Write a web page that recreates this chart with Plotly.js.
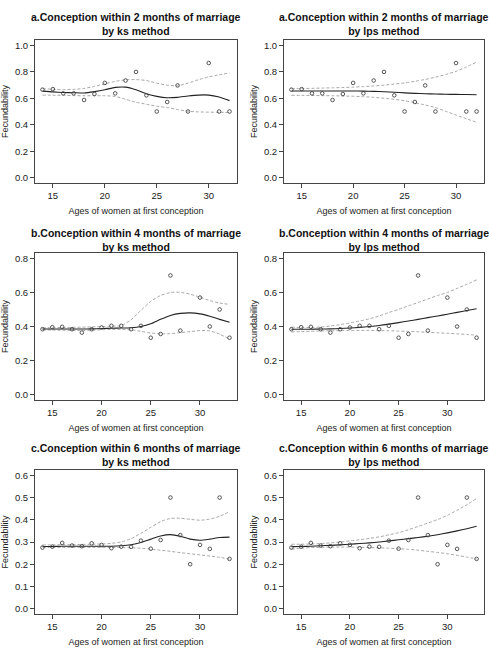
<!DOCTYPE html>
<html><head><meta charset="utf-8">
<script src="https://cdn.plot.ly/plotly-3.0.1.min.js"></script>
<style>html,body{margin:0;padding:0;background:#fff}#chart{width:489px;height:659px}</style>
</head><body><div id="chart"></div>
<script>
// ---- observed points ----
var agesA = [14,15,16,17,18,19,20,21,22,23,24,25,26,27,28,30,31,32];
var fecA  = [0.665,0.669,0.637,0.637,0.587,0.632,0.716,0.637,0.734,0.799,0.622,0.5,0.572,0.697,0.5,0.866,0.5,0.5];
var agesB = [14,15,16,17,18,19,20,21,22,23,24,25,26,27,28,30,31,32,33];
var fecB  = [0.384,0.396,0.398,0.384,0.364,0.384,0.394,0.404,0.404,0.384,0.404,0.334,0.356,0.70,0.376,0.57,0.40,0.50,0.334];
var agesC = [14,15,16,17,18,19,20,21,22,23,24,25,26,27,28,29,30,31,32,33];
var fecC  = [0.275,0.279,0.296,0.284,0.281,0.294,0.287,0.272,0.279,0.278,0.306,0.270,0.309,0.50,0.331,0.20,0.287,0.269,0.50,0.224];

// ---- fitted curves (estimate, upper band, lower band) ----
var gridA = [14,15,16,17,18,19,20,21,22,23,24,25,26,27,28,29,30,31,32];
var gridBC = [14,15,16,17,18,19,20,21,22,23,24,25,26,27,28,29,30,31,32,33];

var ksA_fit = [0.654,0.648,0.644,0.642,0.640,0.650,0.664,0.682,0.684,0.664,0.634,0.614,0.604,0.607,0.617,0.624,0.624,0.609,0.582];
var ksA_up  = [0.672,0.668,0.664,0.667,0.674,0.690,0.709,0.728,0.739,0.741,0.734,0.714,0.699,0.694,0.714,0.740,0.761,0.777,0.791];
var ksA_lo  = [0.624,0.623,0.622,0.620,0.619,0.619,0.619,0.614,0.592,0.570,0.555,0.540,0.530,0.515,0.502,0.497,0.495,0.494,0.493];

var lpsA_fit = [0.655,0.655,0.655,0.655,0.655,0.655,0.655,0.654,0.652,0.649,0.645,0.641,0.637,0.634,0.632,0.630,0.629,0.628,0.627];
var lpsA_up  = [0.672,0.673,0.675,0.677,0.679,0.681,0.684,0.688,0.693,0.699,0.707,0.716,0.728,0.742,0.759,0.779,0.803,0.836,0.873];
var lpsA_lo  = [0.622,0.622,0.621,0.620,0.619,0.617,0.615,0.612,0.607,0.600,0.592,0.581,0.566,0.549,0.530,0.502,0.473,0.446,0.418];

var ksB_fit = [0.385,0.385,0.385,0.385,0.385,0.386,0.388,0.390,0.391,0.393,0.400,0.416,0.442,0.465,0.477,0.480,0.474,0.460,0.442,0.425];
var ksB_up  = [0.392,0.393,0.394,0.395,0.396,0.398,0.400,0.402,0.405,0.440,0.495,0.548,0.582,0.600,0.601,0.590,0.572,0.552,0.538,0.530];
var ksB_lo  = [0.380,0.379,0.378,0.377,0.376,0.378,0.381,0.383,0.383,0.380,0.372,0.362,0.357,0.358,0.364,0.370,0.376,0.374,0.355,0.325];

var lpsB_fit = [0.384,0.384,0.384,0.385,0.386,0.388,0.391,0.395,0.400,0.406,0.414,0.423,0.432,0.442,0.452,0.462,0.472,0.483,0.494,0.504];
var lpsB_up  = [0.396,0.394,0.394,0.397,0.403,0.411,0.421,0.432,0.445,0.462,0.482,0.501,0.521,0.541,0.562,0.582,0.600,0.624,0.648,0.674];
var lpsB_lo  = [0.368,0.370,0.372,0.374,0.375,0.376,0.377,0.377,0.377,0.376,0.375,0.373,0.371,0.369,0.366,0.363,0.360,0.357,0.353,0.349];

var ksC_fit = [0.280,0.280,0.281,0.281,0.281,0.281,0.281,0.281,0.283,0.288,0.298,0.313,0.327,0.333,0.326,0.313,0.308,0.313,0.320,0.322];
var ksC_up  = [0.287,0.287,0.288,0.288,0.289,0.290,0.291,0.294,0.300,0.315,0.339,0.366,0.392,0.406,0.407,0.402,0.398,0.403,0.416,0.436];
var ksC_lo  = [0.276,0.276,0.276,0.276,0.276,0.276,0.275,0.275,0.275,0.274,0.272,0.268,0.263,0.258,0.252,0.247,0.242,0.237,0.231,0.223];

var lpsC_fit = [0.279,0.280,0.281,0.283,0.285,0.287,0.290,0.293,0.296,0.300,0.305,0.310,0.315,0.320,0.326,0.333,0.341,0.350,0.360,0.371];
var lpsC_up  = [0.290,0.290,0.291,0.293,0.296,0.300,0.305,0.310,0.316,0.323,0.332,0.342,0.355,0.370,0.385,0.401,0.420,0.443,0.468,0.496];
var lpsC_lo  = [0.268,0.272,0.275,0.276,0.277,0.277,0.277,0.276,0.275,0.274,0.272,0.270,0.267,0.263,0.258,0.253,0.247,0.240,0.232,0.224];

// ---- labels ----
var panelTitles = [
  ["a.Conception within 2 months of marriage","by ks method"],
  ["a.Conception within 2 months of marriage","by lps method"],
  ["b.Conception within 4 months of marriage","by ks method"],
  ["b.Conception within 4 months of marriage","by lps method"],
  ["c.Conception within 6 months of marriage","by ks method"],
  ["c.Conception within 6 months of marriage","by lps method"]
];
var xTitle = "Ages of women at first conception";
var yTitle = "Fecundability";

var panels = [
  {ax:"",  px:agesA, py:fecA, gx:gridA,  fit:ksA_fit,  up:ksA_up,  lo:ksA_lo},
  {ax:"2", px:agesA, py:fecA, gx:gridA,  fit:lpsA_fit, up:lpsA_up, lo:lpsA_lo},
  {ax:"3", px:agesB, py:fecB, gx:gridBC, fit:ksB_fit,  up:ksB_up,  lo:ksB_lo},
  {ax:"4", px:agesB, py:fecB, gx:gridBC, fit:lpsB_fit, up:lpsB_up, lo:lpsB_lo},
  {ax:"5", px:agesC, py:fecC, gx:gridBC, fit:ksC_fit,  up:ksC_up,  lo:ksC_lo},
  {ax:"6", px:agesC, py:fecC, gx:gridBC, fit:lpsC_fit, up:lpsC_up, lo:lpsC_lo}
];

var W = 489, H = 659;
var colDom = [[35/W, 237/W], [284/W, 484/W]];
var rowDom = [[1-183/H, 1-40/H], [1-400/H, 1-253/H], [1-614/H, 1-470/H]];
var yRanges = [[-0.04,1.04],[-0.032,0.832],[-0.024,0.624]];
var yDticks = [0.2,0.2,0.1];
var xRanges = [[13.28,32.72],[13.24,33.76],[13.24,33.76]];
var titleY = [24, 240, 455];

var FONT = "Liberation Sans, Arial, Helvetica, sans-serif";
var traces = [];
var layout = {
  width: W, height: H,
  margin: {l:0, r:0, t:0, b:0},
  paper_bgcolor: "#fff", plot_bgcolor: "#fff",
  showlegend: false,
  font: {family: FONT, color: "#222"},
  annotations: []
};

panels.forEach(function(p, i){
  var row = Math.floor(i/2), col = i%2;
  var xa = "x"+p.ax, ya = "y"+p.ax;
  traces.push({x:p.gx, y:p.up, xaxis:xa, yaxis:ya, mode:"lines", line:{color:"#a8a8a8", width:1, dash:"3px,2px", shape:"spline", smoothing:0.6}, hoverinfo:"skip"});
  traces.push({x:p.gx, y:p.lo, xaxis:xa, yaxis:ya, mode:"lines", line:{color:"#a8a8a8", width:1, dash:"3px,2px", shape:"spline", smoothing:0.6}, hoverinfo:"skip"});
  traces.push({x:p.gx, y:p.fit, xaxis:xa, yaxis:ya, mode:"lines", line:{color:"#222", width:1.1, shape:"spline", smoothing:0.6}});
  traces.push({x:p.px, y:p.py, xaxis:xa, yaxis:ya, mode:"markers", marker:{symbol:"circle-open", size:3.6, color:"#444", line:{width:0.9, color:"#444"}}});

  var axCommon = {showgrid:false, zeroline:false, showline:true, mirror:true, linecolor:"#444", linewidth:1,
    ticks:"outside", ticklen:4, tickwidth:1, tickcolor:"#444", tickfont:{size:9.5, color:"#222", family:FONT}, fixedrange:true};
  layout["xaxis"+p.ax] = Object.assign({}, axCommon, {
    domain: colDom[col], anchor: ya, range: xRanges[row], tickmode:"linear", tick0:15, dtick:5,
    title:{text:xTitle, font:{size:9, color:"#222", family:FONT}, standoff:7}
  });
  layout["yaxis"+p.ax] = Object.assign({}, axCommon, {
    domain: rowDom[row], anchor: xa, range: yRanges[row], tickmode:"linear", tick0:0, dtick:yDticks[row], tickformat:".1f",
    title:{text:yTitle, font:{size:9, color:"#222", family:FONT}, standoff:4}
  });
  layout.annotations.push({
    xref:"paper", yref:"paper", x:(colDom[col][0]+colDom[col][1])/2, y:1-titleY[row]/H,
    xanchor:"center", yanchor:"middle", showarrow:false, align:"center",
    text:"<b>"+panelTitles[i][0]+"</b><br><b>"+panelTitles[i][1]+"</b>",
    font:{size:10.5, color:"#111", family:FONT}
  });
});

Plotly.newPlot("chart", traces, layout, {displayModeBar:false, staticPlot:true});
</script></body></html>
